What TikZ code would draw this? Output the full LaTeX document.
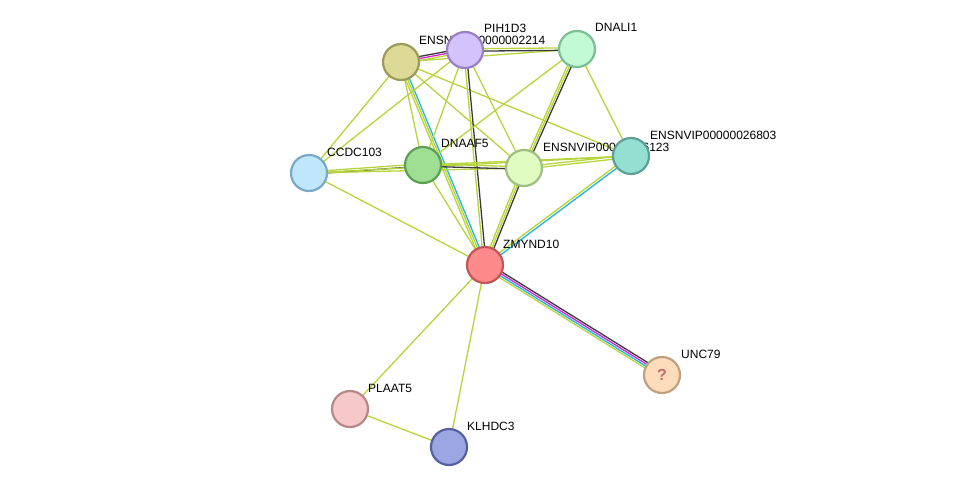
\documentclass[tikz,border=0pt]{standalone}
\usepackage{fontspec}
\setmainfont{Liberation Sans}
\usetikzlibrary{calc}
\definecolor{yg}{HTML}{B8D43C}
\definecolor{bk}{HTML}{3A3A3A}
\definecolor{cy}{HTML}{22B4E0}
\definecolor{mg}{HTML}{D426D4}
\newcommand\medge[3]{\foreach \c/\o in {#3}{\draw[\c,line width=1.3pt] ($(#1)!\o pt!90:(#2)$) -- ($(#2)!\o pt!-90:(#1)$);}}
\tikzset{prot/.style={circle,minimum size=36pt,inner sep=0pt,line width=2.2pt},
lab/.style={anchor=west,font=\fontsize{12}{14}\selectfont,inner sep=0pt}}
\begin{document}
\begin{tikzpicture}[x=1pt,y=-1pt]
\useasboundingbox (0,0) rectangle (976,493);
\coordinate (e2214) at (401,62);
\coordinate (pih) at (465,50);
\coordinate (dnali) at (577,49);
\coordinate (ccdc) at (309,173);
\coordinate (dnaaf) at (423,165);
\coordinate (e123) at (524,168);
\coordinate (e803) at (631,156);
\coordinate (zm) at (485,265);
\coordinate (unc) at (662,375);
\coordinate (pla) at (350,409);
\coordinate (klh) at (449,447);
% edges
\medge{e2214}{pih}{bk/2,mg/0,yg/-2}
\medge{e2214}{dnali}{yg/0}
\medge{pih}{dnali}{yg/1.2,bk/-1.2}
\medge{e2214}{ccdc}{yg/0}
\medge{e2214}{dnaaf}{yg/0}
\medge{e2214}{zm}{cy/1.5,yg/-0.5,yg/-2.5}
\medge{e2214}{e123}{yg/0}
\medge{e2214}{e803}{yg/0}
\medge{pih}{ccdc}{yg/0}
\medge{pih}{dnaaf}{yg/0}
\medge{pih}{zm}{bk/1.2,yg/-1.2}
\medge{pih}{e123}{yg/0}
\medge{dnali}{dnaaf}{yg/0}
\medge{dnali}{e123}{bk/2,yg/0,yg/-2}
\medge{dnali}{e803}{yg/0}
\medge{e123}{zm}{bk/2,yg/0,yg/-2}
\medge{ccdc}{dnaaf}{yg/1.2,bk/-1.2}
\medge{ccdc}{e123}{yg/0}
\medge{ccdc}{e803}{yg/0}
\medge{ccdc}{zm}{yg/0}
\medge{dnaaf}{e123}{yg/1.2,bk/-1.2}
\medge{dnaaf}{e803}{yg/0}
\medge{dnaaf}{zm}{yg/0}
\medge{e123}{e803}{yg/1.2,yg/-1.2}
\medge{e803}{zm}{cy/1.2,yg/-1.2}
\medge{zm}{unc}{bk/3,mg/1,cy/-1,yg/-3}
\medge{zm}{pla}{yg/0}
\medge{zm}{klh}{yg/0}
\medge{pla}{klh}{yg/0}
% labels
\node[lab] (l2214) at (419,40) {ENSNVIP00000002214};
\node[lab] (l123) at (543,147) {ENSNVIP00000026123};
% nodes
\node[prot,fill={rgb,255:red,221;green,218;blue,152},draw={rgb,255:red,154;green,154;blue,90}] (n2214) at (e2214) {};
\node[prot,fill={rgb,255:red,211;green,194;blue,252},draw={rgb,255:red,153;green,128;blue,196}] (npih) at (pih) {};
\node[prot,fill={rgb,255:red,194;green,250;blue,214},draw={rgb,255:red,123;green,191;blue,149}] (ndnali) at (dnali) {};
\node[prot,fill={rgb,255:red,192;green,230;blue,252},draw={rgb,255:red,122;green,169;blue,200}] (nccdc) at (ccdc) {};
\node[prot,fill={rgb,255:red,159;green,223;blue,148},draw={rgb,255:red,92;green,159;blue,82}] (ndnaaf) at (dnaaf) {};
\node[prot,fill={rgb,255:red,224;green,252;blue,192},draw={rgb,255:red,159;green,191;blue,128}] (n123) at (e123) {};
\node[prot,fill={rgb,255:red,148;green,222;blue,210},draw={rgb,255:red,91;green,161;blue,150}] (n803) at (e803) {};
\node[prot,fill={rgb,255:red,252;green,138;blue,138},draw={rgb,255:red,194;green,85;blue,85}] (nzm) at (zm) {};
\node[prot,fill={rgb,255:red,253;green,220;blue,188},draw={rgb,255:red,191;green,160;blue,128},text={rgb,255:red,190;green,110;blue,100},font=\bfseries\fontsize{16}{16}\selectfont] (nunc) at (unc) {?};
\node[prot,fill={rgb,255:red,247;green,200;blue,200},draw={rgb,255:red,184;green,136;blue,136}] (npla) at (pla) {};
\node[prot,fill={rgb,255:red,156;green,166;blue,226},draw={rgb,255:red,86;green,96;blue,160}] (nklh) at (klh) {};
\node[lab] (lpih) at (484,28) {PIH1D3};
\node[lab] (ldnali) at (595,27) {DNALI1};
\node[lab] (lccdc) at (327,152) {CCDC103};
\node[lab] (ldnaaf) at (441,143) {DNAAF5};
\node[lab] (l803) at (650,135) {ENSNVIP00000026803};
\node[lab] (lzm) at (503,244) {ZMYND10};
\node[lab] (lunc) at (681,354) {UNC79};
\node[lab] (lpla) at (368,388) {PLAAT5};
\node[lab] (lklh) at (467,426) {KLHDC3};
\end{tikzpicture}
\end{document}
